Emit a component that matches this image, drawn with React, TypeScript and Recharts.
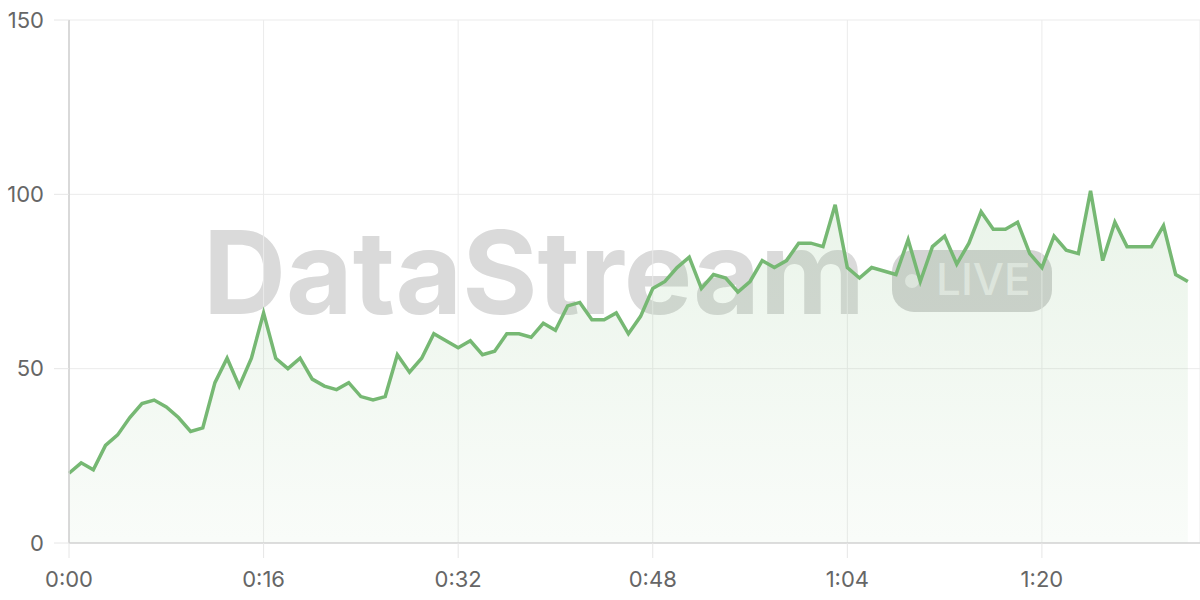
import { AreaChart, Area, XAxis, YAxis, CartesianGrid } from 'recharts'

// elapsed seconds of each sample
const seconds = [
  0, 1, 2, 3, 4, 5, 6, 7, 8, 9, 10, 11, 12, 13, 14, 15, 16, 17, 18, 19,
  20, 21, 22, 23, 24, 25, 26, 27, 28, 29, 30, 31, 32, 33, 34, 35, 36, 37, 38, 39,
  40, 41, 42, 43, 44, 45, 46, 47, 48, 49, 50, 51, 52, 53, 54, 55, 56, 57, 58, 59,
  60, 61, 62, 63, 64, 65, 66, 67, 68, 69, 70, 71, 72, 73, 74, 75, 76, 77, 78, 79,
  80, 81, 82, 83, 84, 85, 86, 87, 88, 89, 90, 91, 92,
]

const values = [
  20, 23, 21, 28, 31, 36, 40, 41, 39, 36, 32, 33, 46, 53, 45, 53, 66, 53, 50, 53,
  47, 45, 44, 46, 42, 41, 42, 54, 49, 53, 60, 58, 56, 58, 54, 55, 60, 60, 59, 63,
  61, 68, 69, 64, 64, 66, 60, 65, 73, 75, 79, 82, 73, 77, 76, 72, 75, 81, 79, 81,
  86, 86, 85, 97, 79, 76, 79, 78, 77, 87, 75, 85, 88, 80, 86, 95, 90, 90, 92, 83,
  79, 88, 84, 83, 101, 81, 92, 85, 85, 85, 91, 77, 75,
]

const xTicks = [0, 16, 32, 48, 64, 80]
const yTicks = [0, 50, 100, 150]

const data = seconds.map((t, i) => ({ t, v: values[i] }))

function clock(s: number) {
  const m = Math.floor(s / 60)
  const r = s % 60
  return `${m}:${String(r).padStart(2, '0')}`
}

const GREEN = '#76b873'
const tickStyle = { fill: '#666', fontSize: 22, fontFamily: 'Inter, sans-serif' }

function Watermark() {
  return (
    <svg width={1200} height={600} style={{ position: 'absolute', left: 0, top: 0 }}>
      <text
        x={203}
        y={314}
        fontFamily="Inter, sans-serif"
        fontWeight={700}
        fontSize={115}
        fill="#dadada"
      >
        DataStream
      </text>
      <rect x={892} y={250} width={160} height={62} rx={22} fill="#d4d4d4" />
      <circle cx={912} cy={281} r={7} fill="#ebebeb" />
      <text
        x={936}
        y={295}
        fontFamily="Inter, sans-serif"
        fontWeight={500}
        fontSize={44}
        fill="#ebebeb"
      >
        LIVE
      </text>
    </svg>
  )
}

export default function App() {
  return (
    <div style={{ position: 'absolute', left: 0, top: 0, width: 1200, height: 600, background: '#fff' }}>
      <Watermark />
      <div style={{ position: 'absolute', left: 0, top: 0 }}>
        <AreaChart width={1200} height={600} data={data} margin={{ top: 20, right: 0, left: 0, bottom: 0 }}>
          <defs>
            <linearGradient id="fillGreen" x1="0" y1="0" x2="0" y2="1">
              <stop offset="0%" stopColor={GREEN} stopOpacity={0.26} />
              <stop offset="100%" stopColor={GREEN} stopOpacity={0.07} />
            </linearGradient>
          </defs>
          <CartesianGrid stroke="#ebebeb" />
          <XAxis
            type="number"
            dataKey="t"
            domain={[0, 93]}
            ticks={xTicks}
            tickFormatter={clock}
            height={57}
            tickSize={15}
            tickMargin={13}
            tick={tickStyle}
            tickLine={{ stroke: '#e6e6e6' }}
            axisLine={{ stroke: '#d4d4d4', strokeWidth: 1.5 }}
          />
          <YAxis
            domain={[0, 150]}
            ticks={yTicks}
            width={69}
            tickSize={15}
            tickMargin={10}
            tick={tickStyle}
            tickLine={{ stroke: '#e6e6e6' }}
            axisLine={{ stroke: '#cfcfcf', strokeWidth: 1.5 }}
          />
          <Area
            type="linear"
            dataKey="v"
            stroke={GREEN}
            strokeWidth={3.5}
            fill="url(#fillGreen)"
            isAnimationActive={false}
            dot={false}
            activeDot={false}
          />
        </AreaChart>
      </div>
    </div>
  )
}
